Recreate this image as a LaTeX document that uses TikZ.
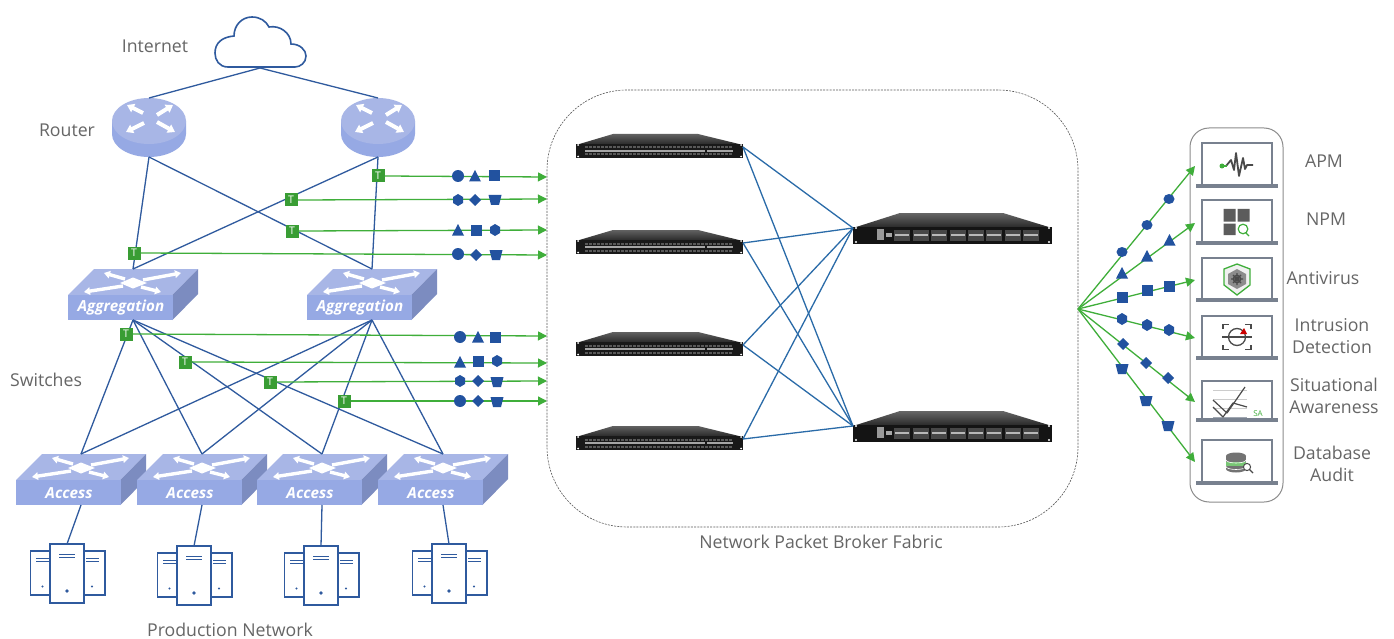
\documentclass[tikz,border=0pt]{standalone}
\usepackage{fontspec}
\setmainfont{Open Sans}
\usetikzlibrary{arrows.meta,calc}
\definecolor{netblue}{HTML}{2F5A9E}
\definecolor{symblue}{HTML}{22529F}
\definecolor{tapgreen}{HTML}{3FAE3A}
\definecolor{txtgray}{HTML}{666666}
\definecolor{dtop}{HTML}{A8B6E6}
\definecolor{dfront}{HTML}{96A9E4}
\definecolor{dside}{HTML}{7C8CC0}
\definecolor{lapgray}{HTML}{78818F}
\definecolor{icondark}{HTML}{4A4A4A}
\tikzset{
  x=1pt,y=-1pt,
  anchorbox/.style={inner sep=0pt,outer sep=0pt,minimum width=#1},
  lbl/.style={text=txtgray,align=center,inner sep=0pt,font=\fontsize{17.7}{21.5}\selectfont},
  link/.style={draw=netblue,line width=1.3pt},
  fab/.style={draw=netblue!90!cyan,line width=1.3pt},
  tapline/.style={draw=tapgreen,line width=1.3pt,-{Triangle[length=9pt,width=9pt]}},
  tap/.style={fill=tapgreen!90!black,text=white,inner sep=0pt,minimum size=13pt,font=\fontsize{10.5}{10.5}\selectfont},
  swarrow/.style={draw=white,line width=3.4pt,-{Triangle[length=6pt,width=7.5pt]}},
  rtarrow/.style={draw=white,line width=4pt,-{Triangle[length=7pt,width=9pt]}},
  devlabel/.style={text=white,inner sep=0pt,font=\fontsize{15.2}{15}\selectfont\bfseries\itshape},
  lapline/.style={draw=lapgray,line width=2.8pt},
  pics/symc/.style={code={\fill[symblue] (0,0) circle[radius=6pt];}},
  pics/syme/.style={code={\fill[symblue] (0,0) ellipse[x radius=5.5pt,y radius=5pt];}},
  pics/symt/.style={code={\fill[symblue] (-6,5.5) -- (0,-6) -- (6,5.5) -- cycle;}},
  pics/syms/.style={code={\fill[symblue] (-5.5,-5.5) rectangle (5.5,5.5);}},
  pics/symd/.style={code={\fill[symblue] (-6,0) -- (0,-6) -- (6,0) -- (0,6) -- cycle;}},
  pics/symh/.style={code={\fill[symblue] (-5,-3) -- (0,-6) -- (5,-3) -- (5,3) -- (0,6) -- (-5,3) -- cycle;}},
  pics/symz/.style={code={\fill[symblue] (-6.5,-5) -- (6.5,-5) -- (4,5) -- (-4,5) -- cycle;}},
}
\newcommand{\routerdev}[2]{%
  \begin{scope}[shift={(#2,0)}]
    \fill[dfront] (-37,121) -- (-37,134) arc[start angle=180,end angle=0,x radius=37,y radius=23] -- (37,121) -- cycle;
    \fill[dtop] (0,121) ellipse[x radius=37pt,y radius=23pt];
    \draw[rtarrow] (-6,113) -- (-22,105);
    \draw[rtarrow] (8,115) -- (24,105);
    \draw[rtarrow] (-5,123) -- (-23,132);
    \draw[rtarrow] (8,122) -- (26,132);
    \node[anchorbox=74pt,minimum height=59pt] (#1) at (0,127.5) {};
  \end{scope}}
\newcommand{\switchdev}[4]{%
  \begin{scope}[shift={(#2,#3)}]
    \fill[dtop] (-65,26) -- (-39,0) -- (65,0) -- (39.5,26) -- cycle;
    \fill[dside] (39.5,26) -- (65,0) -- (65,25) -- (39.5,51) -- cycle;
    \fill[dfront] (-65,26) rectangle (39.5,51);
    \fill[white] (-13,14) -- (0,8.5) -- (14,14) -- (0,19.5) -- cycle;
    \draw[swarrow] (10,11) -- (48,4);
    \draw[swarrow] (-10,17) -- (-49,23);
    \draw[swarrow] (-8,10) -- (-29,4);
    \draw[swarrow] (8,18) -- (28,23);
    \node[devlabel] at (-12,39) {#4};
    \node[anchorbox=100pt,minimum height=51pt] (#1) at (0,25.5) {};
  \end{scope}}
\newcommand{\serverdev}[3]{%
  \begin{scope}[shift={(#2,#3)}]
    \draw[netblue,line width=1.2pt,fill=white] (-36.5,7) rectangle (-17,51);
    \draw[netblue,line width=1.2pt,fill=white] (17,7) rectangle (38,51);
    \draw[netblue,line width=1.2pt,fill=white] (-17,0) rectangle (17,59);
    \draw[netblue,line width=1pt] (-8,10) -- (8,10) (-8,13.5) -- (8,13.5);
    \draw[netblue,line width=1pt] (-31,14) -- (-18,14) (-31,17.5) -- (-18,17.5);
    \draw[netblue,line width=1pt] (19,14) -- (32,14) (19,17.5) -- (32,17.5);
    \fill[netblue] (0,47) circle[radius=1.8pt] (-24.5,42.5) circle[radius=1.2pt] (25,42.5) circle[radius=1.2pt];
    \node[anchorbox=34pt,minimum height=59pt] (#1) at (0,29.5) {};
  \end{scope}}
\newcommand{\leafdev}[2]{%
  \begin{scope}[shift={(576,#2)}]
    \shade[top color=black!62,bottom color=black!85] (37,0) -- (122,0) -- (167,11) -- (0,11) -- cycle;
    \fill[black!90] (0,10) rectangle (167,24);
    \fill[white] (2,11) circle[radius=1pt] (165,11) circle[radius=1pt] (2,22.5) circle[radius=1pt] (165,22.5) circle[radius=1pt];
    \draw[black!65,line width=2pt,dash pattern=on 3pt off 1pt] (9,13.5) -- (157,13.5) (9,20.5) -- (157,20.5);
    \draw[black!35,line width=1.3pt] (9,17) -- (129,17) (131,17) -- (157,17);
    \node[anchorbox=167pt,minimum height=22pt] (#1) at (83.5,13) {};
  \end{scope}}
\newcommand{\spinedev}[2]{%
  \begin{scope}[shift={(853,#2)}]
    \shade[top color=black!60,bottom color=black!85] (47,0) -- (150,0) -- (199,15) -- (0,15) -- cycle;
    \fill[black!92] (0,14) rectangle (199,31);
    \fill[white] (3,15) circle[radius=1.2pt] (196,15) circle[radius=1.2pt] (3,29) circle[radius=1.2pt] (196,29) circle[radius=1.2pt];
    \fill[black!40] (24,16) rectangle (31,27);
    \fill[black!35] (33,20) rectangle (39,24);
    \foreach \px in {41,59.5,78,96.5,115,133,151.5,170} {
      \fill[black!72] (\px,16.5) rectangle (\px+16,27.5);
      \fill[black!28] (\px+1,20.8) rectangle (\px+15,23.2);
    }
    \node[anchorbox=199pt,minimum height=30pt] (#1) at (99.5,15) {};
  \end{scope}}
\newcommand{\laptop}[2]{%
  \draw[lapline] (1202,#2) -- (1202,#1) -- (1272,#1) -- (1272,#2);
  \draw[lapline,line width=3.6pt] (1196,#2+1) -- (1278,#2+1);}
\newcommand{\sym}[3]{\pic at (#2,#3) {#1};}
\begin{document}
\begin{tikzpicture}
\useasboundingbox (0,0) rectangle (1394,639);
\fill[white] (0,0) rectangle (1394,639);

% fabric and tool panel
\node[draw=black!65,line width=.6pt,dash pattern=on 2pt off 1.2pt,rounded corners=80pt,inner sep=0pt,minimum width=531pt,minimum height=437pt] (fabric) at (812.5,308.5) {};
\node[draw=black!45,line width=1pt,rounded corners=19pt,inner sep=0pt,minimum width=93pt,minimum height=374pt] (panel) at (1236.5,315) {};

% cloud
\draw[netblue,line width=1.6pt,fill=white] (228,67) .. controls (219,67) and (215,60) .. (215,53) .. controls (215,43) and (222,37) .. (234,36) .. controls (234,25) and (242,17) .. (252,17) .. controls (260,17) and (266,21) .. (269,27) .. controls (280,25) and (291,33) .. (291,44) .. controls (300,44) and (306,50) .. (306,56) .. controls (306,63) and (300,67) .. (295,67) -- cycle;
\node[anchorbox=92pt,minimum height=52pt] (cloud) at (260,42) {};

% devices
\routerdev{r1}{149}
\routerdev{r2}{378}
\switchdev{g1}{133}{269}{Aggregation}
\switchdev{g2}{372}{269}{Aggregation}
\switchdev{a1}{81}{454}{Access}
\switchdev{a2}{202}{454}{Access}
\switchdev{a3}{322}{454}{Access}
\switchdev{a4}{443}{454}{Access}
\serverdev{s1}{67}{544}
\serverdev{s2}{194}{546}
\serverdev{s3}{321}{546}
\serverdev{s4}{449}{544}
\leafdev{l1}{134}
\leafdev{l2}{230}
\leafdev{l3}{332}
\leafdev{l4}{426}
\spinedev{p1}{213}
\spinedev{p2}{411}

% network links
\draw[link] (cloud.south) -- (r1.north);
\draw[link] (cloud.south) -- (r2.north);
\foreach \ra in {r1,r2} \foreach \gb in {g1,g2} \draw[link] (\ra.south) -- (\gb.north);
\foreach \gb in {g1,g2} \foreach \ac in {a1,a2,a3,a4} \draw[link] (\gb.south) -- (\ac.north);
\draw[link] (a1.south) -- (s1.north);
\draw[link] (a2.south) -- (s2.north);
\draw[link] (a3.south) -- (s3.north);
\draw[link] (a4.south) -- (s4.north);
\foreach \lf in {l1,l2,l3,l4} \foreach \sp in {p1,p2} \draw[fab] (\lf.east) -- (\sp.west);

% tap points
\coordinate (e1) at (547,177);
\coordinate (e2) at (547,199);
\coordinate (e3) at (547,230);
\coordinate (e4) at (547,255);
\coordinate (e5) at (547,336);
\coordinate (e6) at (547,363);
\coordinate (e7) at (547,381);
\coordinate (e8) at (547,401);
\node[tap] (t1) at (378,176) {T};
\node[tap] (t2) at (291,200) {T};
\node[tap] (t3) at (292,231) {T};
\node[tap] (t4) at (134,253) {T};
\node[tap] (t5) at (126,334) {T};
\node[tap] (t6) at (185,362) {T};
\node[tap] (t7) at (270,382) {T};
\node[tap] (t8) at (344,401) {T};
\foreach \i in {1,...,8} \draw[tapline] (t\i.east) -- (e\i);

\sym{symc}{458}{176}\sym{symt}{475}{176}\sym{syms}{494}{176}
\sym{symh}{458}{200}\sym{symd}{475}{200}\sym{symz}{495}{200}
\sym{symt}{458}{230}\sym{syms}{476}{230}\sym{symh}{495}{230}
\sym{symc}{458}{254}\sym{symd}{476}{255}\sym{symz}{496}{255}
\sym{symc}{460}{337}\sym{symt}{478}{337}\sym{syms}{495}{337}
\sym{symt}{460}{362}\sym{syms}{478}{361}\sym{symh}{497}{361}
\sym{symh}{460}{381}\sym{symd}{478}{381}\sym{symz}{497}{382}
\sym{symc}{460}{401}\sym{symd}{478}{401}\sym{symz}{497}{402}

% fan-out to tools
\coordinate (hub) at (1078,309);
\coordinate (o1) at (1195,166);
\coordinate (o2) at (1195,223);
\coordinate (o3) at (1195,280);
\coordinate (o4) at (1195,338);
\coordinate (o5) at (1195,402);
\coordinate (o6) at (1195,462);
\foreach \i in {1,...,6} \draw[tapline] (hub) -- (o\i);
\sym{syme}{1122}{252}\sym{syme}{1147}{225}\sym{syme}{1169}{199}
\sym{symt}{1122}{273}\sym{symt}{1147}{256}\sym{symt}{1169.5}{240}
\sym{syms}{1122}{297}\sym{syms}{1147}{290}\sym{syms}{1169}{286}
\sym{symh}{1122}{319}\sym{symh}{1147}{325}\sym{symh}{1169}{330}
\sym{symd}{1123}{344}\sym{symd}{1146}{363}\sym{symd}{1168}{378}
\sym{symz}{1122}{369}\sym{symz}{1146}{401}\sym{symz}{1168}{426}

% tool laptops
\laptop{143}{185}
\laptop{200}{242}
\laptop{258}{299}
\laptop{316}{357}
\laptop{381}{419}
\laptop{440}{482}

% APM icon
\draw[icondark,line width=1.8pt,line join=round] (1226,166) -- (1231,160) -- (1234,170) -- (1236,153) -- (1239,176) -- (1243,158) -- (1245,169) -- (1247,165) -- (1253,165);
\draw[tapgreen,line width=1.2pt] (1222,166) -- (1227,166);
\fill[tapgreen] (1222,166) circle[radius=2.5pt];
% NPM icon
\fill[icondark!90] (1223.5,209) rectangle (1235.5,221.5) (1237.5,209) rectangle (1249.5,221.5) (1223.5,223.5) rectangle (1235.5,235);
\draw[tapgreen,line width=1.2pt] (1243,229) circle[radius=4.8pt] (1245.5,232.5) -- (1249,236);
% Antivirus icon
\draw[tapgreen,line width=1.3pt,fill=black!6] (1237,264) -- (1250,269) -- (1250,285) -- (1237,295) -- (1224,285) -- (1224,269) -- cycle;
\fill[black!45] (1237,269) -- (1246,274) -- (1246,284) -- (1237,289) -- (1228,284) -- (1228,274) -- cycle;
\draw[icondark,line width=1.1pt] (1237,279) circle[radius=3.8pt] (1231,279) -- (1243,279) (1237,273) -- (1237,285) (1233,275) -- (1241,283) (1241,275) -- (1233,283);
% Intrusion icon
\draw[icondark,line width=1.5pt] (1223,329) -- (1223,324.5) -- (1229,324.5) (1245,324.5) -- (1251,324.5) -- (1251,329) (1223,345) -- (1223,349.5) -- (1229,349.5) (1245,349.5) -- (1251,349.5) -- (1251,345);
\draw[icondark,line width=1.3pt] (1237,337) circle[radius=8.5pt];
\draw[icondark,line width=1.6pt] (1222,337) -- (1252,337);
\fill[red!80!black] (1240,334) -- (1244,328) -- (1247,334) -- cycle;
% Situational awareness icon
\draw[black!20,line width=.8pt] (1213,390) -- (1247,390) (1213,399) -- (1247,399) (1213,408) -- (1247,408);
\draw[lapgray!70,line width=1pt] (1213,417) -- (1247,417);
\draw[icondark,line width=1.2pt,line join=round] (1213,400) -- (1227,413) -- (1245,387);
\draw[icondark,line width=1.2pt,line join=round] (1213,407) -- (1223,417) -- (1233,403) -- (1247,407);
\node[text=tapgreen,inner sep=0pt,font=\fontsize{8}{8}\selectfont] (satext) at (1258,414) {SA};
% Database icon
\fill[black!55] (1226,456) rectangle (1246,469);
\fill[black!55] (1236,469) ellipse[x radius=10pt,y radius=3.5pt];
\fill[tapgreen!70] (1226,461.5) rectangle (1246,465.5);
\draw[white,line width=.6pt] (1226,460) arc[start angle=180,end angle=0,x radius=10,y radius=3] (1226,466.5) arc[start angle=180,end angle=0,x radius=10,y radius=3];
\fill[black!55] (1236,456) ellipse[x radius=10pt,y radius=3.5pt];
\draw[icondark,line width=1pt,fill=white] (1247,467) circle[radius=3.6pt];
\draw[icondark,line width=1.3pt] (1249.5,469.5) -- (1253,473);

% labels
\node[lbl] (lInternet) at (155,46) {Internet};
\node[lbl] (lRouter) at (67,130) {Router};
\node[lbl] (lSwitches) at (46,380) {Switches};
\node[lbl] (lProd) at (230,630) {Production Network};
\node[lbl] (lFabric) at (821,542) {Network Packet Broker Fabric};
\node[lbl] (lAPM) at (1324,161) {APM};
\node[lbl] (lNPM) at (1326,219) {NPM};
\node[lbl] (lAV) at (1323,278) {Antivirus};
\node[lbl] (lID) at (1332,336) {Intrusion\\Detection};
\node[lbl] (lSA) at (1334,396) {Situational\\Awareness};
\node[lbl] (lDB) at (1332,464) {Database\\Audit};
\end{tikzpicture}
\end{document}
